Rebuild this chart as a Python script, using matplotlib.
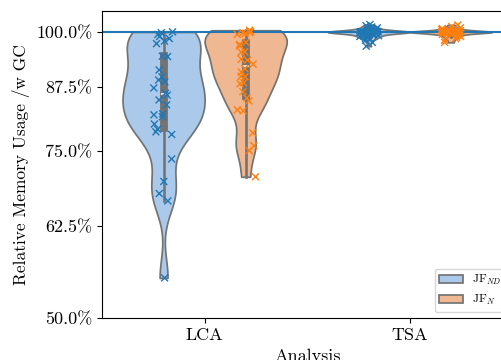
import numpy as np
import pandas as pd
import matplotlib
matplotlib.use("Agg")
import matplotlib.pyplot as plt
from matplotlib.ticker import FuncFormatter, FixedLocator, NullLocator
import seaborn as sns

plt.rcParams['font.family'] = 'serif'
plt.rcParams['font.serif'] = ['cmr10']
plt.rcParams['mathtext.fontset'] = 'cm'
plt.rcParams['axes.formatter.use_mathtext'] = True

# relative memory usage (with GC / without GC)
lca_nd = [0.551, 0.664, 0.676, 0.696, 0.735, 0.780, 0.785, 0.790, 0.800, 0.814,
          0.818, 0.820, 0.838, 0.848, 0.858, 0.862, 0.873, 0.886, 0.890, 0.897,
          0.912, 0.942, 0.943, 0.972, 0.978, 0.984, 0.989, 0.994, 0.998, 1.000]
lca_n = [0.704, 0.750, 0.759, 0.783, 0.826, 0.828, 0.846, 0.852, 0.865, 0.882,
         0.884, 0.897, 0.898, 0.907, 0.915, 0.925, 0.934, 0.936, 0.952, 0.953,
         0.967, 0.970, 0.975, 0.994, 0.996, 0.998, 0.999, 1.000, 1.002, 1.004]
tsa_nd = [0.966, 0.975, 0.980, 0.983, 0.985, 0.987, 0.989, 0.990, 0.991, 0.993,
          0.994, 0.995, 0.996, 0.997, 0.998, 0.998, 0.999, 0.999, 1.000, 1.000,
          1.000, 1.000, 1.000, 1.000, 1.000, 1.000, 1.000, 1.000, 1.001, 1.002,
          1.003, 1.004, 1.005, 1.006, 1.008, 1.010, 1.012, 1.015, 1.018]
tsa_n = [0.975, 0.980, 0.984, 0.987, 0.989, 0.991, 0.993, 0.994, 0.995, 0.996,
         0.997, 0.998, 0.998, 0.999, 0.999, 1.000, 1.000, 1.000, 1.000, 1.000,
         1.000, 1.000, 1.000, 1.000, 1.000, 1.001, 1.002, 1.003, 1.004, 1.005,
         1.006, 1.008, 1.010, 1.013, 1.017]

analyses = ['LCA', 'TSA']
configs = ['JF$_{ND}$', 'JF$_{N}$']
y_ticks = [0.5, 0.625, 0.75, 0.875, 1.0]

rows = []
for analysis, cfg, vals in [('LCA', configs[0], lca_nd), ('LCA', configs[1], lca_n),
                            ('TSA', configs[0], tsa_nd), ('TSA', configs[1], tsa_n)]:
    for v in vals:
        rows.append((analysis, cfg, v))
df = pd.DataFrame(rows, columns=['Analysis', 'Config', 'value'])

fig = plt.figure(figsize=(5.02, 3.6), dpi=100)
ax = fig.add_axes([0.2032, 0.1167, 0.8177, 0.8528])
ax.set_yscale('log')

sns.violinplot(data=df, x='Analysis', y='value', hue='Config', order=analyses,
               hue_order=configs, palette='pastel', cut=0, inner='box',
               density_norm='width', bw_adjust=0.65, ax=ax)
np.random.seed(3)
sns.stripplot(data=df, x='Analysis', y='value', hue='Config', order=analyses,
              hue_order=configs, marker='x', dodge=True, size=5, linewidth=1,
              legend=False, zorder=3, ax=ax)
ax.axhline(1.0, color='tab:blue', lw=1.5, zorder=2)

ax.set_ylim(0.5, 1.052)
ax.set_xlim(-0.5, 1.5)
ax.yaxis.set_major_locator(FixedLocator(y_ticks))
ax.yaxis.set_minor_locator(NullLocator())
ax.yaxis.set_major_formatter(FuncFormatter(lambda v, p: '{:.1f}%'.format(v * 100)))
ax.tick_params(labelsize=13)
ax.set_ylabel('Relative Memory Usage /w GC', fontsize=12.5)
ax.set_xlabel('Analysis', fontsize=13)

handles, labels = ax.get_legend_handles_labels()
ax.legend(handles[:2], labels[:2], loc='lower right', fontsize=8.5)

fig.savefig('out.png', dpi=100)
